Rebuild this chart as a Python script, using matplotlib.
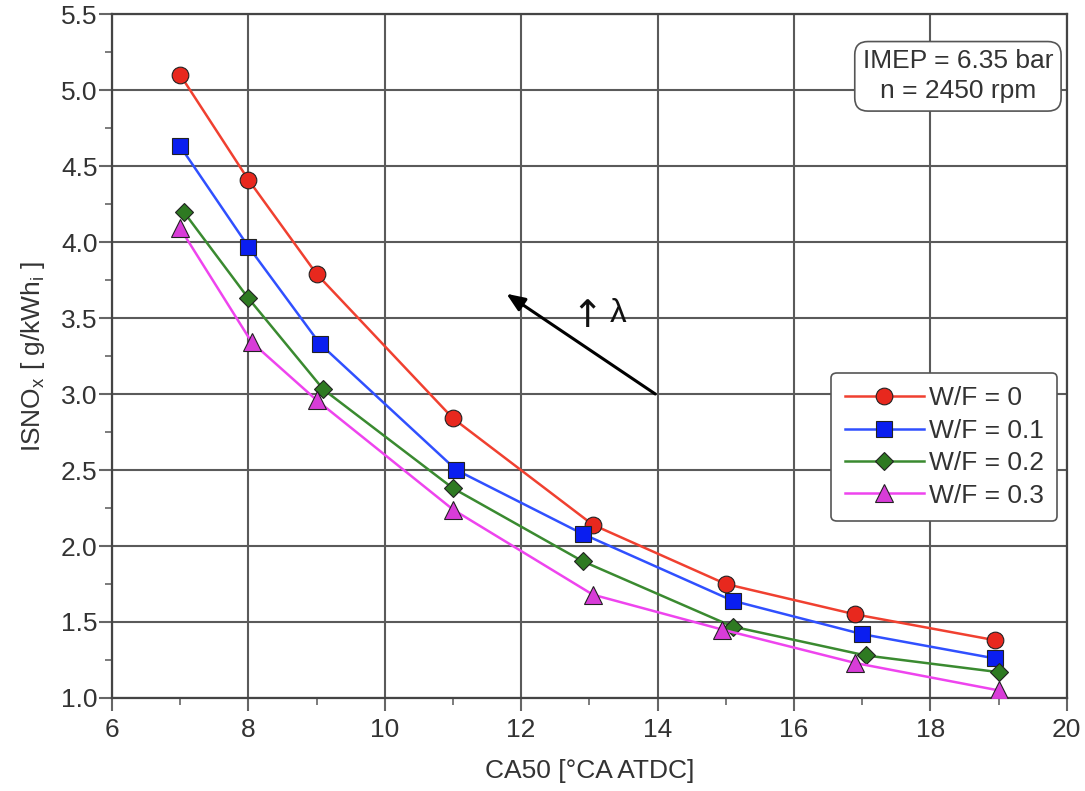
import matplotlib
matplotlib.use("Agg")
import matplotlib.pyplot as plt
from matplotlib.ticker import MultipleLocator, FormatStrFormatter

plt.rcParams['font.family'] = ['Liberation Sans', 'DejaVu Sans']

# Data
x_wf0 = [7.0, 8.0, 9.0, 11.0, 13.05, 15.0, 16.9, 18.95]
y_wf0 = [5.10, 4.41, 3.79, 2.84, 2.14, 1.75, 1.55, 1.38]
x_wf01 = [7.0, 8.0, 9.05, 11.05, 12.9, 15.1, 17.0, 18.95]
y_wf01 = [4.63, 3.97, 3.33, 2.50, 2.08, 1.64, 1.42, 1.26]
x_wf02 = [7.05, 8.0, 9.1, 11.0, 12.9, 15.1, 17.05, 19.0]
y_wf02 = [4.20, 3.63, 3.03, 2.38, 1.90, 1.47, 1.28, 1.17]
x_wf03 = [7.0, 8.05, 9.0, 11.0, 13.05, 14.95, 16.9, 19.0]
y_wf03 = [4.09, 3.34, 2.96, 2.24, 1.68, 1.45, 1.23, 1.05]
labels = ["W/F = 0", "W/F = 0.1", "W/F = 0.2", "W/F = 0.3"]

FS = 19

fig = plt.figure(figsize=(10.85, 7.91), dpi=100)
ax = fig.add_axes([0.1032, 0.1176, 0.8800, 0.8646])

styles = [
    dict(color="#f04030", marker="o", mfc="#e8281e"),
    dict(color="#3050ff", marker="s", mfc="#0a1ef0"),
    dict(color="#3a8a30", marker="D", mfc="#2e7a22"),
    dict(color="#ee44ee", marker="^", mfc="#d83cd8"),
]
sizes = [12, 11.5, 9.5, 12.5]
series = [(x_wf0, y_wf0), (x_wf01, y_wf01), (x_wf02, y_wf02), (x_wf03, y_wf03)]
for (xs, ys), st, lab, ms in zip(series, styles, labels, sizes):
    ax.plot(xs, ys, color=st["color"], lw=1.8, marker=st["marker"], ms=ms,
            mfc=st["mfc"], mec="#222222", mew=0.8, label=lab, zorder=3)

ax.set_xlim(6, 20)
ax.set_ylim(1.0, 5.5)
ax.xaxis.set_major_locator(MultipleLocator(2))
ax.xaxis.set_minor_locator(MultipleLocator(1))
ax.yaxis.set_major_locator(MultipleLocator(0.5))
ax.yaxis.set_minor_locator(MultipleLocator(0.25))
ax.yaxis.set_major_formatter(FormatStrFormatter("%.1f"))
ax.grid(True, which="major", color="#5a5a5a", lw=1.5, zorder=0)
ax.tick_params(which="major", direction="out", labelcolor="#333333", color="#666666",
               labelsize=FS, length=9.5, width=1.5)
ax.tick_params(which="minor", direction="out", color="#666666", length=5, width=1.2)
ax.tick_params(axis="x", which="major", pad=5)
ax.tick_params(axis="y", which="major", pad=1)
for s in ax.spines.values():
    s.set_color("#444444")
    s.set_linewidth(1.6)

ax.set_xlabel("CA50 [°CA ATDC]", fontsize=FS, color="#333333", labelpad=12)
ax.set_ylabel("ISNO$_\\mathregular{x}$ [ g/kWh$_\\mathregular{i}$ ]", fontsize=FS,
              color="#333333", labelpad=10)

leg = ax.legend(loc="upper right", bbox_to_anchor=(0.990, 0.475), fontsize=FS,
                frameon=True, fancybox=True, edgecolor="#555555", framealpha=1,
                handlelength=3.0, borderpad=0.5, labelspacing=0.32, handletextpad=0.2,
                borderaxespad=0)
leg.get_frame().set_linewidth(1.2)
for t in leg.get_texts():
    t.set_color("#333333")

ax.text(0.886, 0.909, "IMEP = 6.35 bar\nn = 2450 rpm", transform=ax.transAxes,
        ha="center", va="center", fontsize=FS, color="#333333", linespacing=1.3,
        bbox=dict(boxstyle="round,pad=0.3,rounding_size=0.5", fc="white",
                  ec="#555555", lw=1.2), zorder=5)

ax.annotate("", xy=(11.75, 3.67), xytext=(14.0, 2.99),
            arrowprops=dict(arrowstyle="-|>,head_length=1.1,head_width=0.45",
                            color="black", lw=2.2), zorder=4)
ax.text(12.96, 3.51, "↑", fontsize=27, color="#111111", ha="center", va="center",
        family=["DejaVu Sans"])
ax.text(13.42, 3.53, "λ", fontsize=24, color="#111111", ha="center", va="center")

fig.savefig("out.png", dpi=100)
